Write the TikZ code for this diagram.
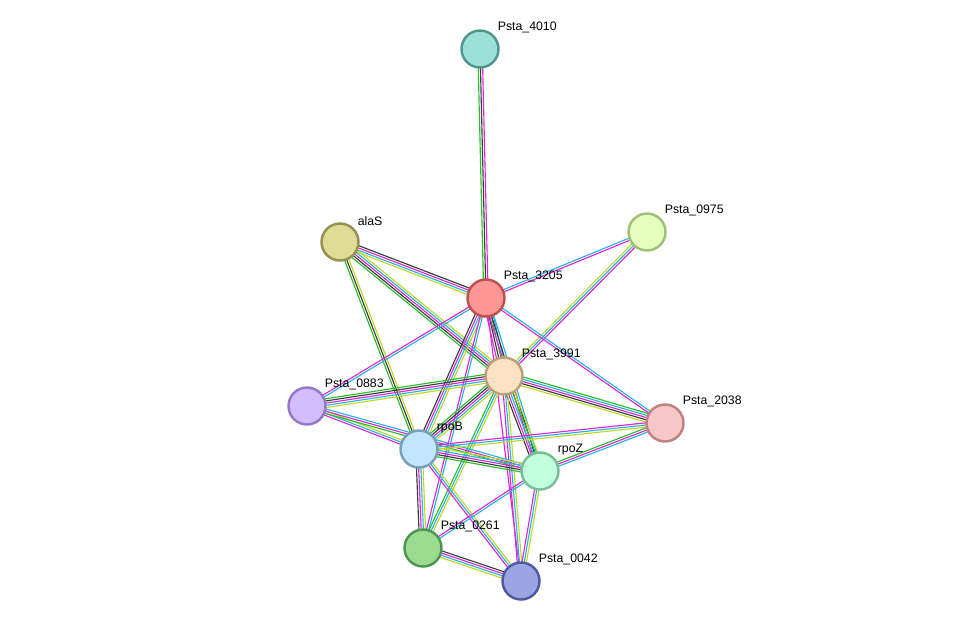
\documentclass[tikz,border=0pt]{standalone}
\usepackage{fontspec}
\setmainfont{Liberation Sans}
\usetikzlibrary{calc}
\pgfdeclarelayer{background layer}
\pgfsetlayers{background layer,main}
\definecolor{eg}{RGB}{40,190,40}
\definecolor{ek}{RGB}{60,60,60}
\definecolor{em}{RGB}{220,40,220}
\definecolor{ec}{RGB}{40,180,225}
\definecolor{ey}{RGB}{190,215,40}
\tikzset{prot/.style={circle,draw,line width=1.4pt,minimum size=0.74cm,inner sep=0pt},
  plabel/.style={anchor=south west,inner sep=1pt,font=\fontsize{7}{8}\selectfont,xshift=1pt}}
\newcommand{\prot}[5]{% name, pos, fill, border, label
  \definecolor{f#1}{RGB}{#3}\definecolor{b#1}{RGB}{#4}
  \node [prot,fill=f#1,draw=b#1,label={[plabel]45:#5}] (#1) at #2 {};}
\newcommand{\link}[3]{%
  \foreach \c [count=\i] in {#3} {\xdef\nlines{\i}}
  \foreach \c [count=\i] in {#3} {
    \pgfmathsetmacro{\off}{(\i-(\nlines+1)/2)*1.25}
    \draw [\c,line width=0.65pt] ($(#1)!\off pt!90:(#2)$) -- ($(#2)!\off pt!-90:(#1)$);}}
\begin{document}
\begin{tikzpicture}[x=0.02cm,y=-0.02cm]
\useasboundingbox (0,0) rectangle (976,627);
\prot{p4010}{(480,49)}{155,225,215}{80,150,140}{Psta\_4010}
\prot{alaS}{(340,242)}{222,220,150}{150,145,80}{alaS}
\prot{p0975}{(647,232)}{228,255,192}{160,190,120}{Psta\_0975}
\prot{p3205}{(486,298)}{255,150,150}{190,80,80}{Psta\_3205}
\prot{p3991}{(504,376)}{255,225,195}{190,160,120}{Psta\_3991}
\prot{p0883}{(307,406)}{210,190,255}{150,120,200}{Psta\_0883}
\prot{p2038}{(665,423)}{248,200,200}{190,130,130}{Psta\_2038}
\prot{rpoB}{(419,449)}{195,230,255}{120,160,190}{rpoB}
\prot{rpoZ}{(540,471)}{195,255,220}{120,190,150}{rpoZ}
\prot{p0261}{(423,548)}{155,220,145}{80,150,80}{Psta\_0261}
\prot{p0042}{(521,581)}{155,165,225}{80,90,160}{Psta\_0042}
\begin{pgfonlayer}{background layer}
% interactions
\link{p4010}{p3205}{eg,ek,em}
\link{alaS}{p3205}{ey,ec,em,ek}
\link{alaS}{p3991}{eg,ek,em,ec,ey}
\link{alaS}{rpoB}{eg,ek,ey}
\link{p0975}{p3205}{ec,em}
\link{p0975}{p3991}{ey,ec,em}
\link{p3205}{p0883}{em,ec}
\link{p3205}{p3991}{em,ek,eg,ec}
\link{p3205}{p2038}{em,ec}
\link{p3205}{rpoB}{ek,em,ec,ey}
\link{p3205}{rpoZ}{em,ek,ec}
\link{p3205}{p0261}{em,ec}
\link{p3205}{p0042}{em}
\link{p3991}{p0883}{eg,ek,em,ec,ey}
\link{p3991}{p2038}{ey,ek,em,ec,eg}
\link{p3991}{rpoB}{eg,ek,em,ec,ey}
\link{p3991}{rpoZ}{ek,em,ec,eg,ey}
\link{p3991}{p0261}{eg,ec,ey}
\link{p3991}{p0042}{em,ec,ey}
\link{p0883}{rpoB}{em,ec,ey}
\link{p0883}{rpoZ}{eg,em,ec}
\link{rpoB}{p2038}{ey,ec,em}
\link{rpoB}{rpoZ}{eg,ek,em,ec,ey}
\link{rpoB}{p0261}{ek,em,ec,ey}
\link{rpoB}{p0042}{em,ec,ey}
\link{rpoZ}{p2038}{ec,em,eg}
\link{rpoZ}{p0261}{em,ec}
\link{rpoZ}{p0042}{em,ec,ey}
\link{p0261}{p0042}{ey,ec,em,ek}
\end{pgfonlayer}
\end{tikzpicture}
\end{document}
